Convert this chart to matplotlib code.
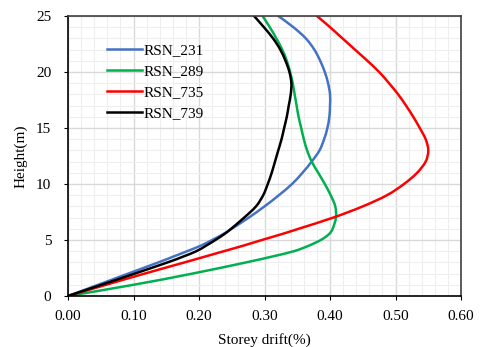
import numpy as np
import matplotlib
matplotlib.use("Agg")
import matplotlib.pyplot as plt
from matplotlib.path import Path
from matplotlib.patches import PathPatch
from matplotlib.lines import Line2D
from matplotlib.ticker import MultipleLocator, FormatStrFormatter

plt.rcParams['font.family'] = ['Liberation Serif', 'DejaVu Serif']

# heights (m) at which drifts were read
heights = [0, 1, 2, 3, 3.5, 4, 4.5, 5, 5.5, 6, 7, 8, 9, 10, 11, 12, 13, 14,
           15, 16, 17, 18, 19, 20, 21, 22, 23, 24, 25]

# storey drift (%) per record
rsn_231 = [0, 0.046, 0.092, 0.138, 0.160, 0.182, 0.203, 0.220, 0.236, 0.250,
           0.276, 0.300, 0.322, 0.342, 0.358, 0.372, 0.384, 0.391, 0.396,
           0.399, 0.400, 0.400, 0.397, 0.392, 0.385, 0.376, 0.363, 0.344, 0.321]
rsn_289 = [0, 0.100, 0.190, 0.272, 0.310, 0.345, 0.368, 0.386, 0.398, 0.404,
           0.409, 0.408, 0.401, 0.392, 0.382, 0.372, 0.365, 0.360, 0.356,
           0.352, 0.349, 0.346, 0.343, 0.339, 0.334, 0.327, 0.318, 0.308, 0.297]
rsn_735 = [0, 0.058, 0.117, 0.178, 0.208, 0.238, 0.268, 0.296, 0.325, 0.352,
           0.405, 0.450, 0.487, 0.513, 0.533, 0.546, 0.550, 0.546, 0.537,
           0.527, 0.516, 0.504, 0.490, 0.475, 0.457, 0.438, 0.419, 0.400, 0.380]
rsn_739 = [0, 0.051, 0.102, 0.152, 0.175, 0.196, 0.211, 0.225, 0.238, 0.249,
           0.269, 0.287, 0.298, 0.305, 0.311, 0.316, 0.321, 0.326, 0.330,
           0.334, 0.337, 0.340, 0.341, 0.338, 0.332, 0.324, 0.313, 0.299, 0.284]

labels = ["RSN_231", "RSN_289", "RSN_735", "RSN_739"]
colors = ["#4472C4", "#00B050", "#FF0000", "#000000"]


def smooth_path(xs, ys):
    # smoothed line like a spreadsheet chart: bezier segments through the points
    p = np.column_stack([xs, ys]).astype(float)
    n = len(p)
    verts = [p[0]]
    codes = [Path.MOVETO]
    for i in range(n - 1):
        p0 = p[i - 1] if i > 0 else p[i]
        p3 = p[i + 2] if i + 2 < n else p[i + 1]
        c1 = p[i] + (p[i + 1] - p0) / 6.0
        c2 = p[i + 1] - (p3 - p[i]) / 6.0
        verts += [c1, c2, p[i + 1]]
        codes += [Path.CURVE4] * 3
    return Path(verts, codes)


fig = plt.figure(figsize=(4.83, 3.47), dpi=100)
ax = fig.add_axes([0.1408, 0.147, 0.8137, 0.807])

handles = []
for d, lab, c in zip([rsn_231, rsn_289, rsn_735, rsn_739], labels, colors):
    ax.add_patch(PathPatch(smooth_path(d, heights), fc='none', ec=c, lw=1.8,
                           capstyle='round', joinstyle='round'))
    handles.append(Line2D([], [], color=c, lw=1.8, label=lab))

ax.set_xlim(0, 0.6)
ax.set_ylim(0, 25)
ax.xaxis.set_major_locator(MultipleLocator(0.1))
ax.xaxis.set_minor_locator(MultipleLocator(0.02))
ax.yaxis.set_major_locator(MultipleLocator(5))
ax.yaxis.set_minor_locator(MultipleLocator(1))
ax.xaxis.set_major_formatter(FormatStrFormatter('%.2f'))

ax.grid(which='major', color='#d9d9d9', lw=1.0)
ax.grid(which='minor', color='#eeeeee', lw=0.8)
ax.set_axisbelow(True)

ax.tick_params(which='major', direction='out', length=3, width=0.8,
               labelsize=11, colors='#000000')
ax.tick_params(axis='y', pad=9)
ax.tick_params(axis='x', pad=7)
ax.tick_params(which='minor', length=0)

for s in ['top', 'right']:
    ax.spines[s].set_color('#404040')
    ax.spines[s].set_linewidth(1.2)
for s in ['left', 'bottom']:
    ax.spines[s].set_color('#000000')
    ax.spines[s].set_linewidth(1.2)

ax.set_xlabel("Storey drift(%)", fontsize=11, labelpad=7)
ax.set_ylabel("Height(m)", fontsize=11, labelpad=6)

ax.legend(handles=handles, loc='upper left', bbox_to_anchor=(0.083, 0.924),
          frameon=False, fontsize=11, handlelength=2.3, handletextpad=0.1,
          labelspacing=0.48, borderaxespad=0)

fig.savefig("out.png", dpi=100)
